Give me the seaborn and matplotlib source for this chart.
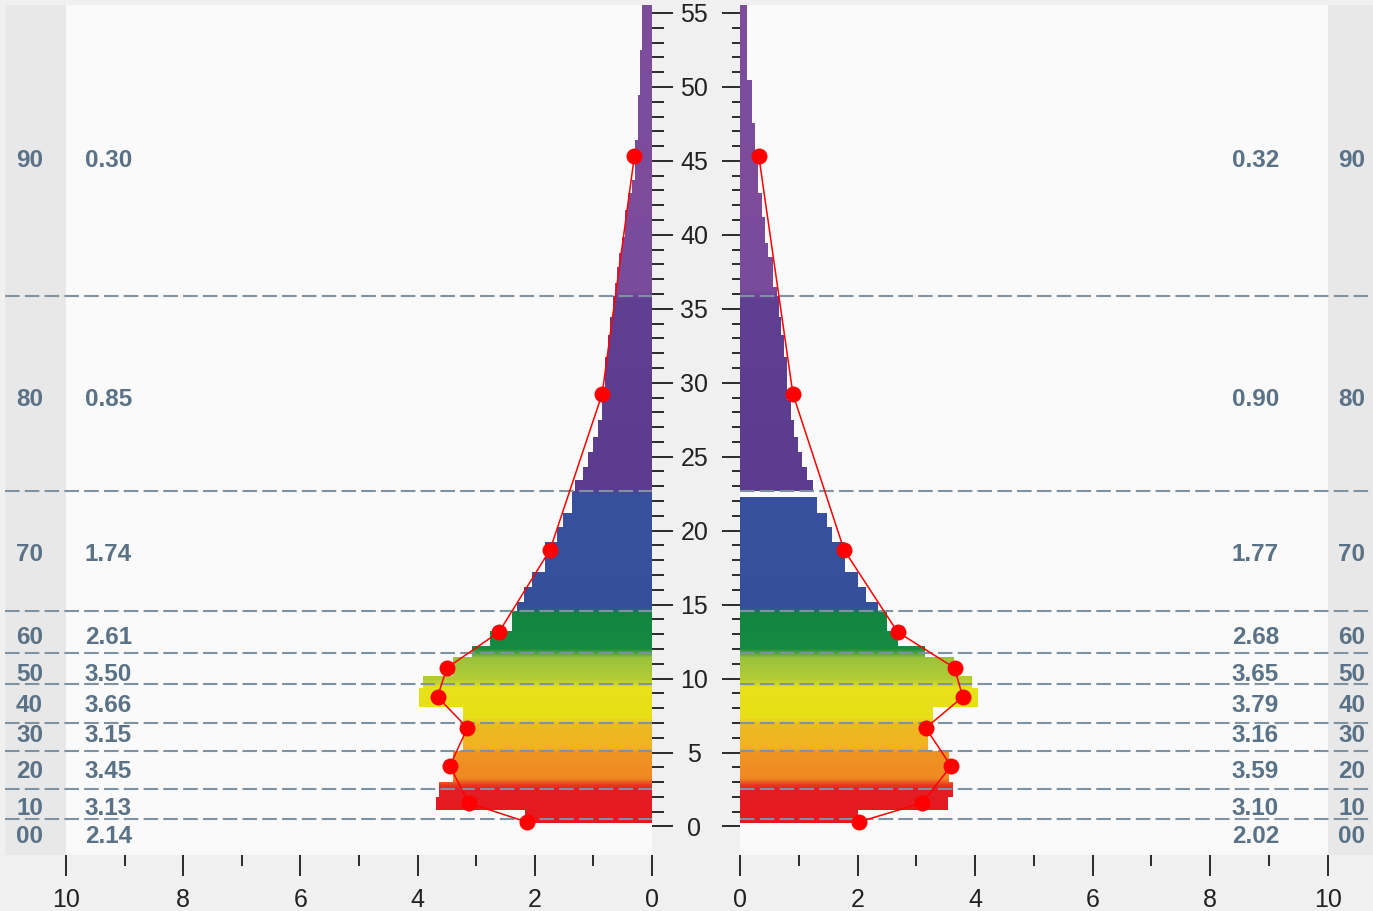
import numpy as np
import matplotlib
matplotlib.use("Agg")
import matplotlib.pyplot as plt
from matplotlib.colors import to_rgb
from matplotlib.ticker import FixedLocator
import seaborn as sns
import pandas as pd

# ---------------- data ----------------
decades = ["00", "10", "20", "30", "40", "50", "60", "70", "80", "90"]
left_avg = [2.14, 3.13, 3.45, 3.15, 3.66, 3.50, 2.61, 1.74, 0.85, 0.30]
right_avg = [2.02, 3.10, 3.59, 3.16, 3.79, 3.65, 2.68, 1.77, 0.90, 0.32]
decade_y = [0.30, 1.59, 4.09, 6.66, 8.76, 10.72, 13.15, 18.70, 29.25, 45.33]
divider_y = [0.51, 2.54, 5.10, 6.99, 9.63, 11.73, 14.57, 22.68, 35.87]

left_edges = [0.24, 1.12, 1.99, 3.01, 5.10, 7.00, 8.08, 9.36, 10.17, 11.46,
              12.20, 13.22, 14.57, 15.18, 16.20, 17.21, 19.24, 20.25, 21.20, 22.68,
              23.42, 24.30, 25.32, 26.33, 27.48, 28.84, 31.74, 33.23, 34.45, 35.87,
              36.75, 37.83, 38.78, 39.86, 41.69, 42.84, 43.72, 46.42, 49.46, 52.51, 55.6]
left_widths = [2.17, 3.69, 3.63, 3.40, 3.22, 3.22, 3.98, 3.90, 3.40, 3.07,
               2.76, 2.39, 2.30, 2.18, 2.05, 1.83, 1.62, 1.52, 1.37, 1.31,
               1.18, 1.09, 1.00, 0.92, 0.85, 0.80, 0.75, 0.72, 0.67, 0.63,
               0.60, 0.56, 0.51, 0.46, 0.41, 0.34, 0.29, 0.24, 0.20, 0.17]
right_edges = [0.24, 1.12, 1.99, 3.01, 5.10, 7.00, 8.08, 9.36, 10.17, 11.46,
               12.20, 13.22, 14.57, 15.18, 16.20, 17.21, 19.24, 20.25, 21.20, 22.28,
               22.68, 23.42, 24.30, 25.32, 26.33, 27.48, 28.84, 31.74, 33.23, 34.45,
               35.87, 36.48, 38.51, 39.45, 41.21, 42.84, 45.75, 47.57, 50.48, 55.6]
right_widths = [2.00, 3.54, 3.62, 3.55, 3.20, 3.28, 4.05, 3.95, 3.64, 3.15,
                2.69, 2.50, 2.35, 2.15, 2.00, 1.78, 1.56, 1.48, 1.31, 0.00,
                1.24, 1.14, 1.05, 0.98, 0.92, 0.86, 0.80, 0.75, 0.70, 0.66,
                0.63, 0.56, 0.48, 0.43, 0.37, 0.31, 0.26, 0.20, 0.12]

# colour ramp along the age axis
ramp_y = [0.0, 2.6, 3.3, 5.0, 5.35, 6.9, 7.3, 9.4, 9.9, 11.4, 12.0, 14.4, 14.8, 22.4, 22.8, 35.5, 36.3, 56.0]
ramp_c = ["#e8161e", "#e31d24", "#ee8a22", "#ef9322", "#efb420", "#edb821", "#e8df16", "#e6e11a",
          "#b4cc34", "#9ac23c", "#158a42", "#128540", "#34509c", "#36509e", "#5b3b8e", "#5e3f91",
          "#7b4b9b", "#7d4d9c"]

# ---------------- style ----------------
sns.set_style("white")
plt.rcParams["font.family"] = ["Liberation Sans", "DejaVu Sans"]

W, H, DPI = 1373, 911, 100
FIG_BG = "#f0f0f0"
AX_BG = "#fafafa"
STRIP = "#e8e8e8"
TXT = "#5a7287"
DASH = "#7f92a2"

fig = plt.figure(figsize=(W / DPI, H / DPI), dpi=DPI, facecolor=FIG_BG)
ax_l = fig.add_axes([5 / W, 56 / H, 647 / W, 850 / H])
ax_r = fig.add_axes([740 / W, 56 / H, 633 / W, 850 / H])

YLIM = (-1.93, 55.54)
ramp_rgb = np.array([to_rgb(c) for c in ramp_c])


def colour_at(y):
    return tuple(np.interp(y, ramp_y, ramp_rgb[:, k]) for k in range(3))


def draw_side(ax, edges, widths):
    bottoms, heights, ws, cols = [], [], [], []
    for b, t, w in zip(edges[:-1], edges[1:], widths):
        n = max(1, int(np.ceil((t - b) / 0.08)))
        cuts = np.linspace(b, t, n + 1)
        for s0, s1 in zip(cuts[:-1], cuts[1:]):
            bottoms.append(s0)
            heights.append(s1 - s0)
            ws.append(w)
            cols.append(colour_at((s0 + s1) / 2))
    ax.barh(y=bottoms, width=ws, height=heights, align="edge", color=cols,
            linewidth=0, antialiased=False, zorder=1)


for ax, xl in ((ax_l, (11.04, 0)), (ax_r, (0, 10.77))):
    ax.set_facecolor(AX_BG)
    ax.set_xlim(*xl)
    ax.set_ylim(*YLIM)
    for sp in ax.spines.values():
        sp.set_visible(False)
    ax.axvspan(10, 12, color=STRIP, lw=0, zorder=0)

draw_side(ax_l, left_edges, left_widths)
draw_side(ax_r, right_edges, right_widths)

for ax in (ax_l, ax_r):
    for y in divider_y:
        ax.axhline(y, color=DASH, lw=1.5, dashes=(7, 2.5), zorder=2)

# average line with dots
df_l = pd.DataFrame({"avg": left_avg, "y": decade_y})
df_r = pd.DataFrame({"avg": right_avg, "y": decade_y})
for ax, df in ((ax_l, df_l), (ax_r, df_r)):
    sns.lineplot(data=df, x="avg", y="y", sort=False, estimator=None, ax=ax,
                 color="#ff0000", lw=1.1, marker="o", markersize=11.5,
                 markeredgewidth=0, zorder=3)
    ax.set_xlabel("")
    ax.set_ylabel("")

# decade + value labels
label_y = [-0.65, 1.24, 3.74, 6.17, 8.20, 10.30, 12.80, 18.41, 28.85, 45.05]
tkw = dict(color=TXT, fontsize=17.5, fontweight="bold", va="center", zorder=4)
for d, ly, lv, rv in zip(decades, label_y, left_avg, right_avg):
    ax_l.text(10.62, ly, d, ha="center", **tkw)
    ax_l.text(9.68, ly, f"{lv:.2f}", ha="left", **tkw)
    ax_r.text(9.17, ly, f"{rv:.2f}", ha="right", **tkw)
    ax_r.text(10.41, ly, d, ha="center", **tkw)

# ticks
TICK_C = "#2a2a2a"
major_y = list(range(0, 56, 5))
minor_y = [v for v in range(0, 56) if v % 5]
for ax in (ax_l, ax_r):
    ax.xaxis.set_major_locator(FixedLocator([0, 2, 4, 6, 8, 10]))
    ax.xaxis.set_minor_locator(FixedLocator([1, 3, 5, 7, 9]))
    ax.yaxis.set_major_locator(FixedLocator(major_y))
    ax.yaxis.set_minor_locator(FixedLocator(minor_y))
    ax.tick_params(axis="x", which="major", direction="out", length=15, width=1.4,
                   color=TICK_C, labelsize=18, labelcolor="#222222", pad=8.5, bottom=True)
    ax.tick_params(axis="x", which="minor", direction="out", length=8, width=1.4,
                   color=TICK_C, bottom=True)
    ax.set_xticklabels(["0", "2", "4", "6", "8", "10"])

ax_l.yaxis.tick_right()
ax_l.tick_params(axis="y", which="major", direction="out", length=15, width=1.4,
                 color=TICK_C, labelsize=18, labelcolor="#222222", pad=15.5,
                 right=True, left=False)
ax_l.tick_params(axis="y", which="minor", direction="out", length=8.5, width=1.4,
                 color=TICK_C, right=True, left=False)
ax_l.set_yticklabels([str(v) for v in major_y])
for lab in ax_l.get_yticklabels():
    lab.set_horizontalalignment("center")

ax_r.tick_params(axis="y", which="major", direction="out", length=13, width=1.4,
                 color=TICK_C, labelleft=False, left=True)
ax_r.tick_params(axis="y", which="minor", direction="out", length=5.8, width=1.4,
                 color=TICK_C, left=True)
ax_r.set_ylim(*YLIM)
ax_l.set_ylim(*YLIM)

fig.savefig("out.png", dpi=DPI, facecolor=FIG_BG)
